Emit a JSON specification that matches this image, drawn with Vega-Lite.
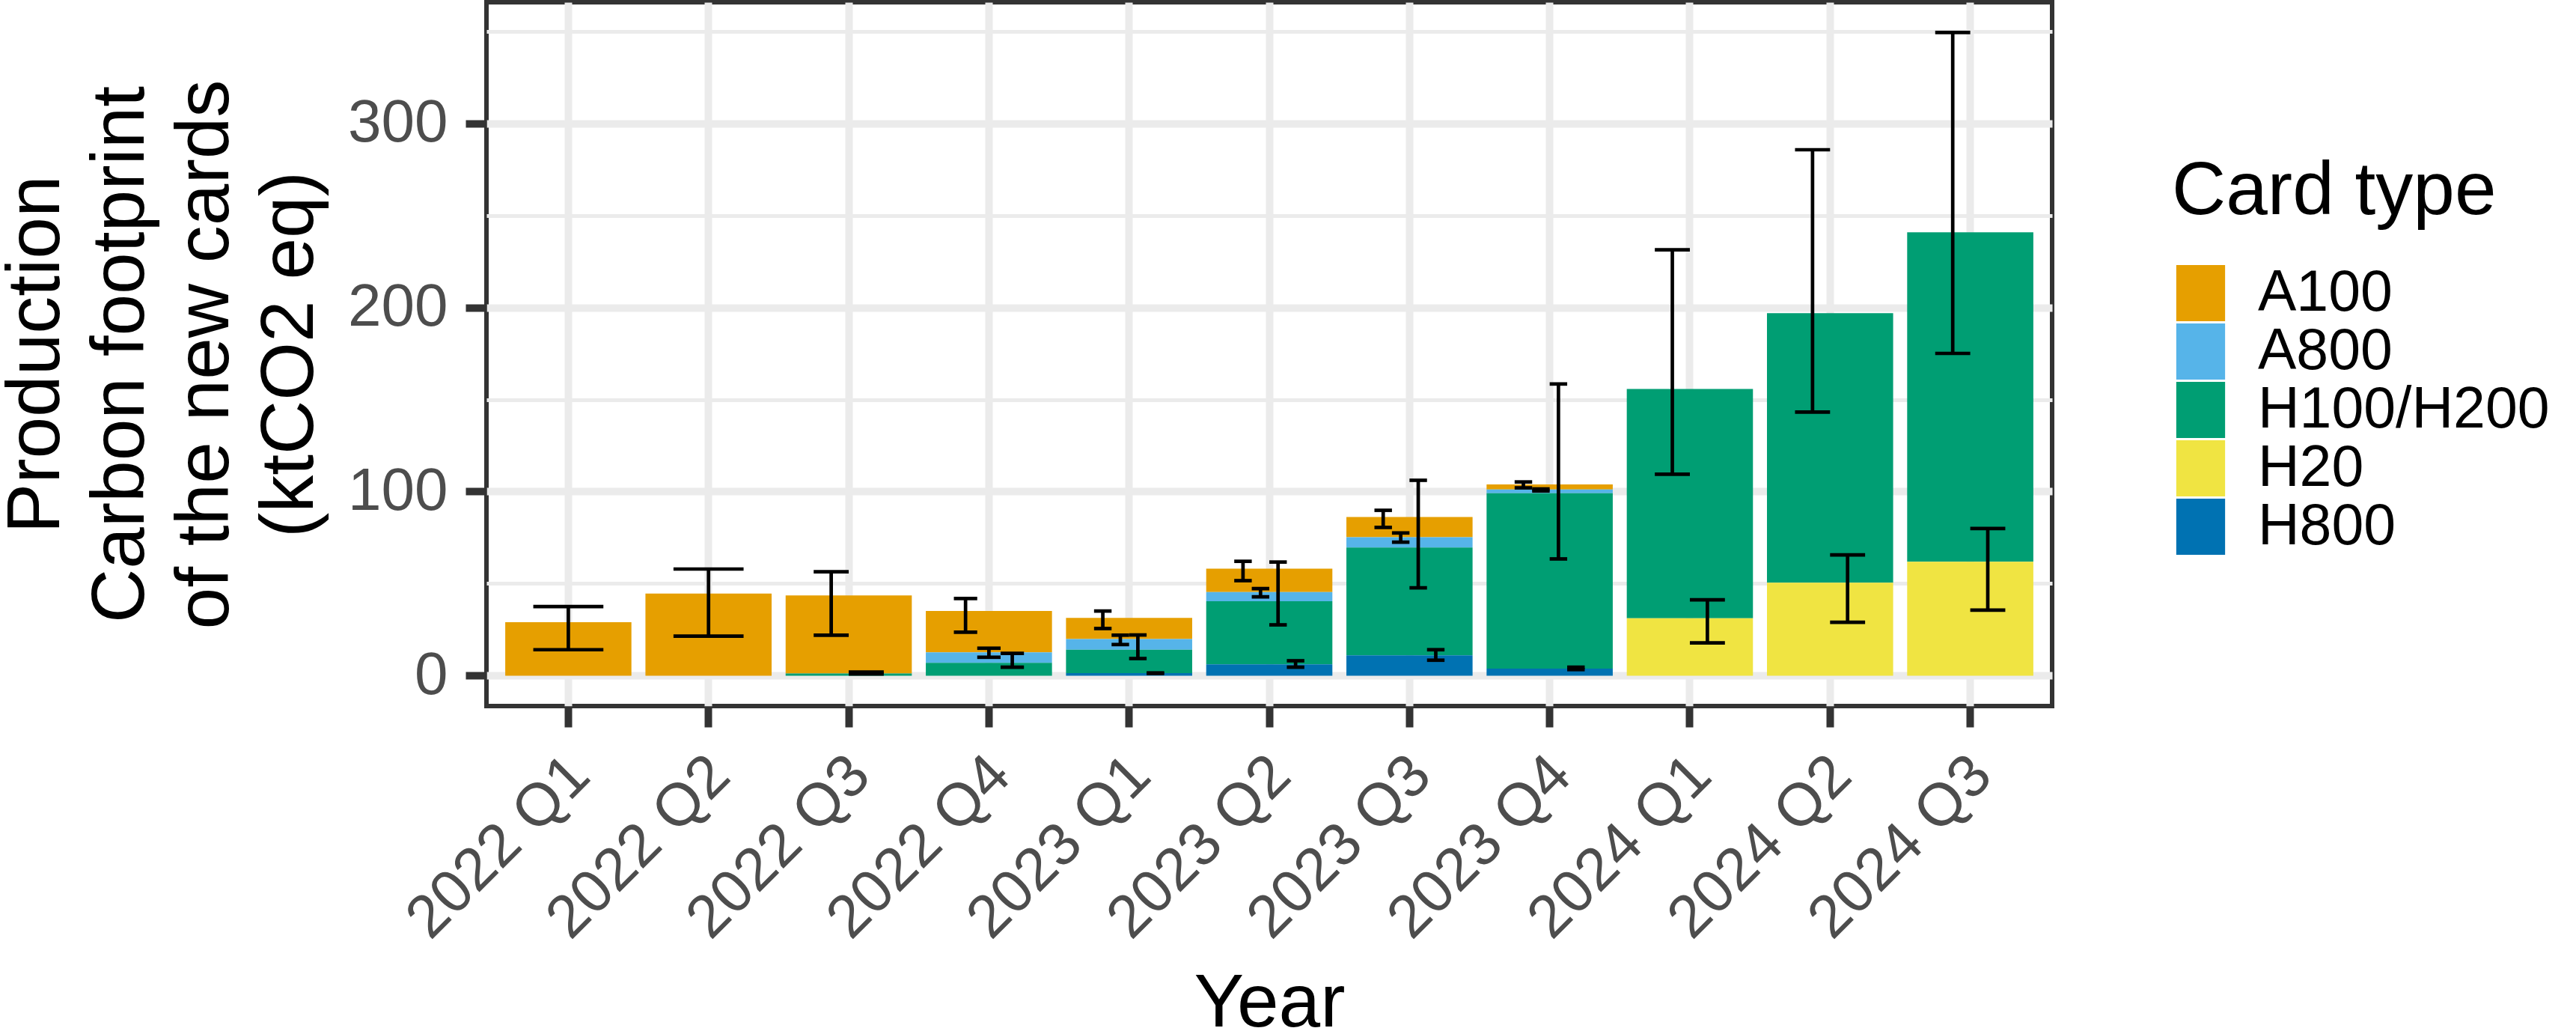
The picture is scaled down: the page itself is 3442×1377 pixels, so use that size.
{
  "$schema": "https://vega.github.io/schema/vega-lite/v6.json",
  "width": 2092,
  "height": 940,
  "autosize": {"type": "none"},
  "padding": {"left": 650, "top": 3, "right": 700, "bottom": 434},
  "background": "white",
  "config": {
    "font": "Liberation Sans",
    "view": {"stroke": "#333333", "strokeWidth": 6, "fill": "white"}
  },
  "data": {
    "values": [
      {"quarter": "2022 Q1", "card": "A100", "value": 29.0, "lo": 14.1, "hi": 37.5},
      {"quarter": "2022 Q2", "card": "A100", "value": 44.6, "lo": 21.5, "hi": 57.9},
      {"quarter": "2022 Q3", "card": "A100", "value": 42.4, "lo": 22.0, "hi": 56.4},
      {"quarter": "2022 Q3", "card": "H100/H200", "value": 1.2, "lo": 0.9, "hi": 2.0},
      {"quarter": "2022 Q4", "card": "A100", "value": 22.4, "lo": 23.6, "hi": 41.9},
      {"quarter": "2022 Q4", "card": "A800", "value": 5.7, "lo": 10.0, "hi": 14.9},
      {"quarter": "2022 Q4", "card": "H100/H200", "value": 7.0, "lo": 4.6, "hi": 12.1},
      {"quarter": "2023 Q1", "card": "A100", "value": 11.5, "lo": 25.6, "hi": 35.1},
      {"quarter": "2023 Q1", "card": "A800", "value": 5.8, "lo": 16.9, "hi": 22.0},
      {"quarter": "2023 Q1", "card": "H100/H200", "value": 12.75, "lo": 9.3, "hi": 22.1},
      {"quarter": "2023 Q1", "card": "H800", "value": 1.35, "lo": 1.2, "hi": 1.5},
      {"quarter": "2023 Q2", "card": "A100", "value": 12.7, "lo": 51.6, "hi": 62.1},
      {"quarter": "2023 Q2", "card": "A800", "value": 5.0, "lo": 42.8, "hi": 47.3},
      {"quarter": "2023 Q2", "card": "H100/H200", "value": 34.2, "lo": 27.6, "hi": 61.7},
      {"quarter": "2023 Q2", "card": "H800", "value": 6.2, "lo": 4.6, "hi": 8.1},
      {"quarter": "2023 Q3", "card": "A100", "value": 11.0, "lo": 80.5, "hi": 89.8},
      {"quarter": "2023 Q3", "card": "A800", "value": 5.6, "lo": 72.5, "hi": 77.5},
      {"quarter": "2023 Q3", "card": "H100/H200", "value": 58.6, "lo": 47.7, "hi": 106.1},
      {"quarter": "2023 Q3", "card": "H800", "value": 11.0, "lo": 8.4, "hi": 14.1},
      {"quarter": "2023 Q4", "card": "A100", "value": 2.8, "lo": 102.0, "hi": 105.2},
      {"quarter": "2023 Q4", "card": "A800", "value": 2.0, "lo": 100.3, "hi": 101.4},
      {"quarter": "2023 Q4", "card": "H100/H200", "value": 95.3, "lo": 63.4, "hi": 158.4},
      {"quarter": "2023 Q4", "card": "H800", "value": 3.8, "lo": 3.3, "hi": 4.6},
      {"quarter": "2024 Q1", "card": "H100/H200", "value": 124.5, "lo": 109.4, "hi": 231.3},
      {"quarter": "2024 Q1", "card": "H20", "value": 31.2, "lo": 17.8, "hi": 41.2},
      {"quarter": "2024 Q2", "card": "H100/H200", "value": 146.4, "lo": 143.1, "hi": 285.6},
      {"quarter": "2024 Q2", "card": "H20", "value": 50.5, "lo": 29.0, "hi": 65.6},
      {"quarter": "2024 Q3", "card": "H100/H200", "value": 178.9, "lo": 175.0, "hi": 349.3},
      {"quarter": "2024 Q3", "card": "H20", "value": 61.9, "lo": 35.6, "hi": 79.9}
    ]
  },
  "transform": [
    {"window": [{"op": "row_number", "as": "slot"}], "groupby": ["quarter"], "sort": [{"field": "card", "order": "ascending"}]},
    {"joinaggregate": [{"op": "count", "as": "n"}], "groupby": ["quarter"]},
    {"calculate": "(datum.slot - (datum.n + 1) / 2) * 0.5 / datum.n", "as": "off"},
    {"calculate": "0.5 / datum.n", "as": "capw"}
  ],
  "encoding": {
    "x": {
      "field": "quarter",
      "type": "ordinal",
      "scale": {"paddingInner": 0.1, "paddingOuter": 0.134},
      "axis": {
        "title": "Year",
        "titleFontSize": 100,
        "titleFontWeight": "normal",
        "titleColor": "black",
        "titleX": 1046,
        "titleY": 427,
        "titleAlign": "center",
        "titleBaseline": "alphabetic",
        "labelAngle": -45,
        "labelAlign": "right",
        "labelBaseline": "top",
        "labelFontSize": 80,
        "labelColor": "#4D4D4D",
        "labelPadding": 24,
        "labelOffset": -12,
        "labelOverlap": false,
        "labelBound": false,
        "labelLimit": 1000,
        "tickSize": 28,
        "tickWidth": 10,
        "tickColor": "#333333",
        "bandPosition": 0.5,
        "grid": true,
        "gridColor": "#EBEBEB",
        "gridWidth": 10,
        "domain": false
      }
    }
  },
  "resolve": {"scale": {"xOffset": "independent", "size": "independent"}},
  "layer": [
    {
      "mark": {"type": "bar"},
      "encoding": {
        "y": {
          "field": "value",
          "type": "quantitative",
          "stack": "zero",
          "scale": {"domain": [-16.5, 365.7], "nice": false, "zero": false},
          "axis": {
            "title": ["Production", "Carbon footprint", "of the new cards", "(ktCO2 eq)"],
            "titleFontSize": 100,
            "titleFontWeight": "normal",
            "titleColor": "black",
            "titleLineHeight": 113,
            "titleAngle": 270,
            "titleX": -572,
            "titleY": 470,
            "titleAlign": "center",
            "titleBaseline": "alphabetic",
            "titleLimit": 2000,
            "values": [0, 50, 100, 150, 200, 250, 300, 350],
            "labelExpr": "datum.value % 100 === 0 ? datum.label : ''",
            "labelFontSize": 80,
            "labelColor": "#4D4D4D",
            "labelPadding": 24,
            "tickSize": 28,
            "tickWidth": 10,
            "tickColor": "#333333",
            "tickOpacity": {"condition": {"test": "datum.value % 100 === 0", "value": 1}, "value": 0},
            "grid": true,
            "gridColor": "#EBEBEB",
            "gridWidth": {"condition": {"test": "datum.value % 100 === 0", "value": 10}, "value": 5},
            "domain": false
          }
        },
        "color": {
          "field": "card",
          "type": "nominal",
          "scale": {
            "domain": ["A100", "A800", "H100/H200", "H20", "H800"],
            "range": ["#E69F00", "#56B4E9", "#009E73", "#F0E442", "#0072B2"]
          },
          "legend": {
            "title": "Card type",
            "orient": "none",
            "legendX": 2252,
            "legendY": 204,
            "titleFontSize": 100,
            "titleFontWeight": "normal",
            "titleColor": "black",
            "titlePadding": 46,
            "titleLimit": 2000,
            "labelFontSize": 77,
            "labelColor": "black",
            "labelOffset": 38,
            "labelLimit": 2000,
            "symbolType": "M-0.87,-1H0.87V1H-0.87Z",
            "symbolSize": 5625,
            "symbolStrokeWidth": 0,
            "symbolOpacity": 1,
            "rowPadding": 0
          }
        },
        "order": {"field": "card", "sort": "descending"}
      }
    },
    {
      "mark": {"type": "rule", "color": "black", "strokeWidth": 4.7},
      "encoding": {
        "xOffset": {"field": "off", "type": "quantitative", "scale": {"domain": [-0.5, 0.5], "range": [-9.36, 177.96], "zero": false, "nice": false}},
        "y": {"field": "lo", "type": "quantitative"},
        "y2": {"field": "hi"}
      }
    },
    {
      "mark": {"type": "tick", "orient": "horizontal", "color": "black", "thickness": 4.7, "opacity": 1},
      "encoding": {
        "xOffset": {"field": "off", "type": "quantitative", "scale": {"domain": [-0.5, 0.5], "range": [-9.36, 177.96], "zero": false, "nice": false}},
        "y": {"field": "lo", "type": "quantitative"},
        "size": {"field": "capw", "type": "quantitative", "scale": {"domain": [0, 1], "range": [0, 187.32], "zero": true, "nice": false}, "legend": null}
      }
    },
    {
      "mark": {"type": "tick", "orient": "horizontal", "color": "black", "thickness": 4.7, "opacity": 1},
      "encoding": {
        "xOffset": {"field": "off", "type": "quantitative", "scale": {"domain": [-0.5, 0.5], "range": [-9.36, 177.96], "zero": false, "nice": false}},
        "y": {"field": "hi", "type": "quantitative"},
        "size": {"field": "capw", "type": "quantitative", "scale": {"domain": [0, 1], "range": [0, 187.32], "zero": true, "nice": false}, "legend": null}
      }
    }
  ]
}
